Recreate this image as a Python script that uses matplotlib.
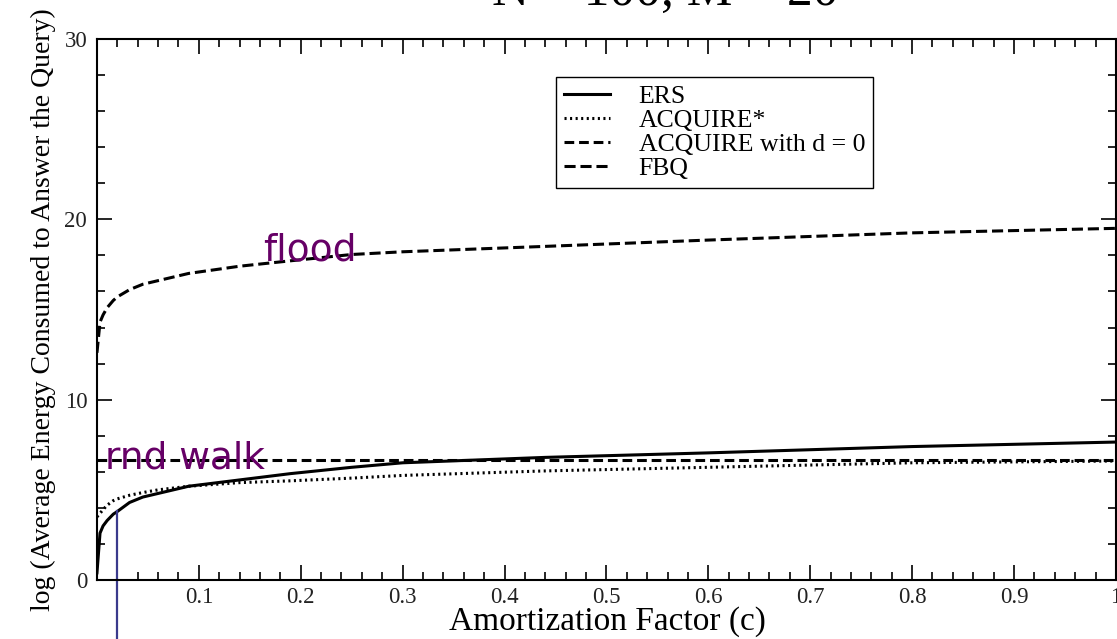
import matplotlib
matplotlib.use("Agg")
import matplotlib.pyplot as plt
from matplotlib.ticker import MultipleLocator, FixedLocator

plt.rcParams['lines.scale_dashes'] = False

# ---- data ----
c_vals = [0.0, 0.003, 0.006, 0.01, 0.016, 0.02, 0.032, 0.045, 0.06, 0.09,
          0.14, 0.19, 0.25, 0.3, 0.44, 0.6, 0.8, 1.0]
ers = [0.4, 2.6, 3.0, 3.3, 3.65, 3.8, 4.3, 4.6, 4.8, 5.2,
       5.55, 5.9, 6.25, 6.5, 6.8, 7.05, 7.4, 7.65]
acquire_star = [3.5, 3.7, 3.9, 4.15, 4.4, 4.5, 4.7, 4.85, 5.0, 5.2,
                5.4, 5.5, 5.65, 5.8, 6.05, 6.25, 6.5, 6.6]
acq_d0_c = [0.0, 1.0]
acq_d0 = [6.65, 6.65]
fbq = [12.6, 14.3, 14.7, 15.1, 15.5, 15.7, 16.1, 16.4, 16.6, 17.0,
       17.4, 17.7, 18.05, 18.2, 18.5, 18.85, 19.25, 19.5]

x_ticks = [0.1, 0.2, 0.3, 0.4, 0.5, 0.6, 0.7, 0.8, 0.9, 1.0]
x_tick_labels = ['0.1', '0.2', '0.3', '0.4', '0.5', '0.6', '0.7', '0.8', '0.9', '1']
y_ticks = [0, 10, 20, 30]
marker_c = 0.0196  # blue marker line position
marker_y = 3.8

serif = 'Liberation Serif'
purple = '#660066'

fig = plt.figure(figsize=(11.17, 6.39), dpi=100)
ax = fig.add_axes([0.0868, 0.0923, 0.9122, 0.8467])

ax.plot(c_vals, ers, color='black', lw=2.2, label='ERS')
ax.plot(c_vals, acquire_star, color='black', lw=2.2, linestyle=(0, (1.5, 2.5)),
        label='ACQUIRE*')
ax.plot(acq_d0_c, acq_d0, color='black', lw=2.2, linestyle=(0, (7, 3.5)),
        label='ACQUIRE with d = 0')
ax.plot(c_vals, fbq, color='black', lw=2.2, linestyle=(0, (8, 3.5)), label='FBQ')

ax.set_xlim(0, 1.0)
ax.set_ylim(0, 30)

ax.xaxis.set_major_locator(FixedLocator(x_ticks))
ax.set_xticklabels(x_tick_labels)
ax.xaxis.set_minor_locator(MultipleLocator(0.02))
ax.yaxis.set_major_locator(FixedLocator(y_ticks))
ax.yaxis.set_minor_locator(MultipleLocator(2))

ax.tick_params(which='both', direction='in', top=True, right=True, width=1.2,
               colors='black')
ax.tick_params(which='major', length=11, labelsize=16.5, pad=7)
ax.tick_params(axis='x', which='major', pad=5)
ax.tick_params(which='minor', length=6)
for lab in ax.get_xticklabels() + ax.get_yticklabels():
    lab.set_fontfamily(serif)
    lab.set_color('#222222')
for sp in ax.spines.values():
    sp.set_linewidth(1.5)

fig.text(0.5434, (639 - 630) / 639, 'Amortization Factor (c)', fontsize=24,
         family=serif, ha='center', va='baseline')
ax.set_ylabel('log (Average Energy Consumed to Answer the Query)', fontsize=20,
              family=serif, labelpad=6)

leg = ax.legend(loc='upper left', bbox_to_anchor=(0.451, 0.93), fancybox=False,
                edgecolor='black', framealpha=1, handlelength=1.8,
                handletextpad=1.1, labelspacing=0.05, borderpad=0.3,
                borderaxespad=0.0, prop={'family': serif, 'size': 18.5})
leg.get_frame().set_linewidth(1.0)

ax.text(0.163, 17.7, 'flood', color=purple, fontsize=27, family='DejaVu Sans',
        va='baseline', ha='left')
ax.text(0.008, 6.2, 'rnd walk', color=purple, fontsize=27, family='DejaVu Sans',
        va='baseline', ha='left')

ax.plot([marker_c, marker_c], [marker_y, -3.4], color='#3a3a8c', lw=1.6,
        clip_on=False)

fig.text(0.596, 0.993, 'N = 100, M = 20', fontsize=37, family=serif,
         ha='center', va='baseline')

fig.savefig('out.png', dpi=100)
